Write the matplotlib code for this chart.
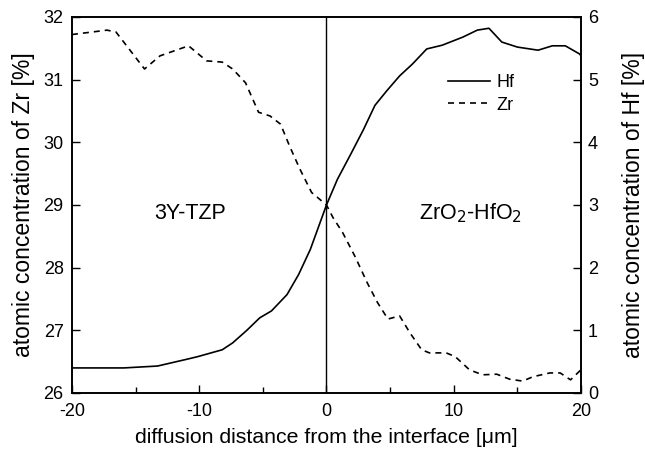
import matplotlib
matplotlib.use('Agg')
import matplotlib.pyplot as plt
from matplotlib.ticker import MultipleLocator

plt.rcParams['font.family'] = ['Liberation Sans', 'DejaVu Sans']
plt.rcParams['axes.unicode_minus'] = False

# Hf profile (right axis)
hf_x = [-20, -15.93, -13.28, -10.94, -10.12, -8.19, -7.37, -6.26, -5.24, -4.32, -3.10, -2.19, -1.27, 0,
        0.86, 1.88, 2.90, 3.81, 4.73, 5.75, 6.76, 7.88, 9.10, 10.73, 11.85, 12.77, 13.78, 15.00, 16.63,
        17.75, 18.77, 19.89, 20]
hf_y = [0.40, 0.40, 0.43, 0.54, 0.58, 0.69, 0.80, 1.0, 1.20, 1.31, 1.57, 1.89, 2.29, 3.00,
        3.41, 3.80, 4.20, 4.59, 4.82, 5.06, 5.25, 5.49, 5.55, 5.68, 5.79, 5.82, 5.60, 5.52, 5.47,
        5.54, 5.54, 5.41, 5.38]

# Zr profile (left axis)
zr_x = [-20, -17.25, -16.54, -14.30, -13.08, -10.84, -9.42, -8.19, -7.37, -6.36, -5.34, -4.43, -3.61,
        -2.90, -2.08, -1.17, 0, 0.51, 1.27, 2.24, 3.20, 4.02, 4.83, 5.75, 6.56, 7.48, 8.09, 9.41,
        10.12, 11.24, 12.26, 13.38, 14.40, 15.42, 16.23, 17.55, 18.37, 19.18, 20]
zr_y = [31.72, 31.79, 31.76, 31.17, 31.38, 31.54, 31.30, 31.28, 31.17, 30.95, 30.48, 30.42, 30.29,
        29.94, 29.57, 29.20, 29.00, 28.80, 28.56, 28.18, 27.76, 27.44, 27.18, 27.23, 26.96, 26.69,
        26.64, 26.64, 26.58, 26.37, 26.29, 26.30, 26.22, 26.19, 26.26, 26.32, 26.32, 26.21, 26.37]

fig = plt.figure(figsize=(6.45, 4.59), dpi=100)
ax = fig.add_axes([0.1116, 0.1438, 0.7891, 0.8192])
ax2 = ax.twinx()

ax.plot(zr_x, zr_y, color='black', lw=1.2, dashes=(3.6, 3.0), label='Zr')
ax2.plot(hf_x, hf_y, color='black', lw=1.2, label='Hf')
ax.axvline(0, color='black', lw=1.0)

ax.set_xlim(-20, 20)
ax.set_ylim(26, 32)
ax2.set_ylim(0, 6)
ax.xaxis.set_major_locator(MultipleLocator(10))
ax.xaxis.set_minor_locator(MultipleLocator(5))
ax.yaxis.set_major_locator(MultipleLocator(1))
ax2.yaxis.set_major_locator(MultipleLocator(1))

for a in (ax, ax2):
    a.tick_params(direction='in', length=6, width=1, labelsize=13)
    a.tick_params(which='minor', direction='in', length=4, width=1)
    for s in a.spines.values():
        s.set_linewidth(1.2)
ax.tick_params(axis='x', pad=7)
ax.tick_params(axis='y', pad=6)
ax2.tick_params(axis='y', pad=5)

ax.set_xlabel('diffusion distance from the interface [\u03bcm]', fontsize=15.3, labelpad=6)
ax.set_ylabel('atomic concentration of Zr [%]', fontsize=16.5, labelpad=6)
ax2.set_ylabel('atomic concentration of Hf [%]', fontsize=16.5, labelpad=17)

ax.text(-10.7, 28.87, '3Y-TZP', fontsize=15.5, ha='center', va='center')
ax.text(11.3, 28.87, 'ZrO$_2$-HfO$_2$', fontsize=15.5, ha='center', va='center')

h1, l1 = ax2.get_legend_handles_labels()
h2, l2 = ax.get_legend_handles_labels()
ax2.legend(h1 + h2, l1 + l2, loc='upper left', bbox_to_anchor=(0.739, 0.848), frameon=False,
           fontsize=13, handlelength=2.3, handletextpad=0.4, labelspacing=0.3, borderpad=0,
           borderaxespad=0)

fig.savefig('out.png', dpi=100)
